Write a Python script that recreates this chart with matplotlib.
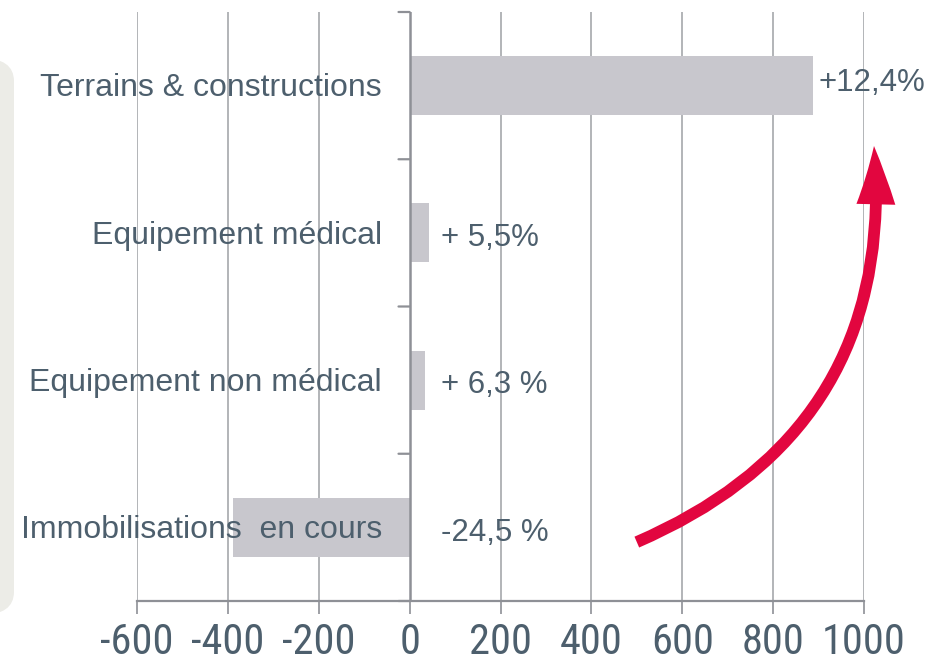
import matplotlib
matplotlib.use("Agg")
import matplotlib.pyplot as plt
from matplotlib.patches import FancyBboxPatch, FancyArrowPatch

categories = ["Terrains & constructions", "Equipement médical",
              "Equipement non médical", "Immobilisations  en cours"]
values = [887, 42, 33, -389]
value_labels = ["+12,4%", "+ 5,5%", "+ 6,3 %", "-24,5 %"]
xticks = [-600, -400, -200, 0, 200, 400, 600, 800, 1000]

TEXT = "#4d5f6d"
GRID = "#a6a8ac"
SPINE = "#8e9096"
BAR = "#c8c7cd"
RED = "#e2063f"

fig = plt.figure(figsize=(9.48, 6.63), dpi=100)
fig.patch.set_facecolor("white")

# light side panel on the left
panel = FancyBboxPatch((-40 / 948, 48 / 663), 54 / 948, 557 / 663,
                       boxstyle="round,pad=0,rounding_size=0.035",
                       transform=fig.transFigure, facecolor="#ecece7",
                       edgecolor="none", zorder=0)
fig.patches.append(panel)

ax = fig.add_axes([137 / 948, 62 / 663, 727 / 948, 589 / 663])
ax.set_facecolor("none")

ypos = list(range(len(categories)))
ax.barh(ypos, values, height=0.4, color=BAR, zorder=2)

ax.set_xlim(-600, 1000)
ax.set_ylim(len(categories) - 0.5, -0.5)

# vertical gridlines
for t in xticks:
    if t != 0:
        ax.axvline(t, color=GRID, lw=1.2, zorder=0.5)

for s in ["top", "right", "left"]:
    ax.spines[s].set_visible(False)
ax.spines["bottom"].set_color(SPINE)
ax.spines["bottom"].set_linewidth(1.6)
ax.axvline(0, color=SPINE, lw=1.8, zorder=3)

ax.set_xticks(xticks)
ax.set_xticklabels([str(t) for t in xticks],
                   family=["Roboto Condensed", "Liberation Sans"],
                   fontsize=30.5, color=TEXT)
ax.tick_params(axis="x", direction="out", length=9, width=1.2,
               color=SPINE, pad=6)
ax.set_yticks([])

# category separator ticks on the zero axis
for b in [y - 0.5 for y in ypos] + [len(categories) - 0.5]:
    ax.annotate("", xy=(0, b), xytext=(-8, 0), textcoords="offset points",
                arrowprops=dict(arrowstyle="-", color=SPINE, lw=1.6,
                                shrinkA=0, shrinkB=0),
                annotation_clip=False)

# category labels (drawn above bars)
for y, c in zip(ypos, categories):
    ax.annotate(c, xy=(0, y), xytext=(-20, -2), textcoords="offset points",
                ha="right", va="center", fontsize=23, color=TEXT,
                family="Liberation Sans", zorder=5, annotation_clip=False)

# value labels
for y, v, lab in zip(ypos, values, value_labels):
    x = v + 12 if v > 100 else 68
    dy = -0.02 if v > 100 else 0.035
    ax.text(x, y + dy, lab, ha="left", va="center", fontsize=22.5,
            color=TEXT, family="Liberation Sans", zorder=5, clip_on=False)

# decorative curved arrow
arrow = FancyArrowPatch((500, 3.1), (1022, 0.41),
                        connectionstyle="arc3,rad=0.36",
                        arrowstyle="simple,head_width=28,head_length=42,tail_width=8.5",
                        mutation_scale=1, color=RED, lw=0, zorder=6,
                        shrinkA=0, shrinkB=0, clip_on=False)
ax.add_patch(arrow)

fig.savefig("out.png", dpi=100)
